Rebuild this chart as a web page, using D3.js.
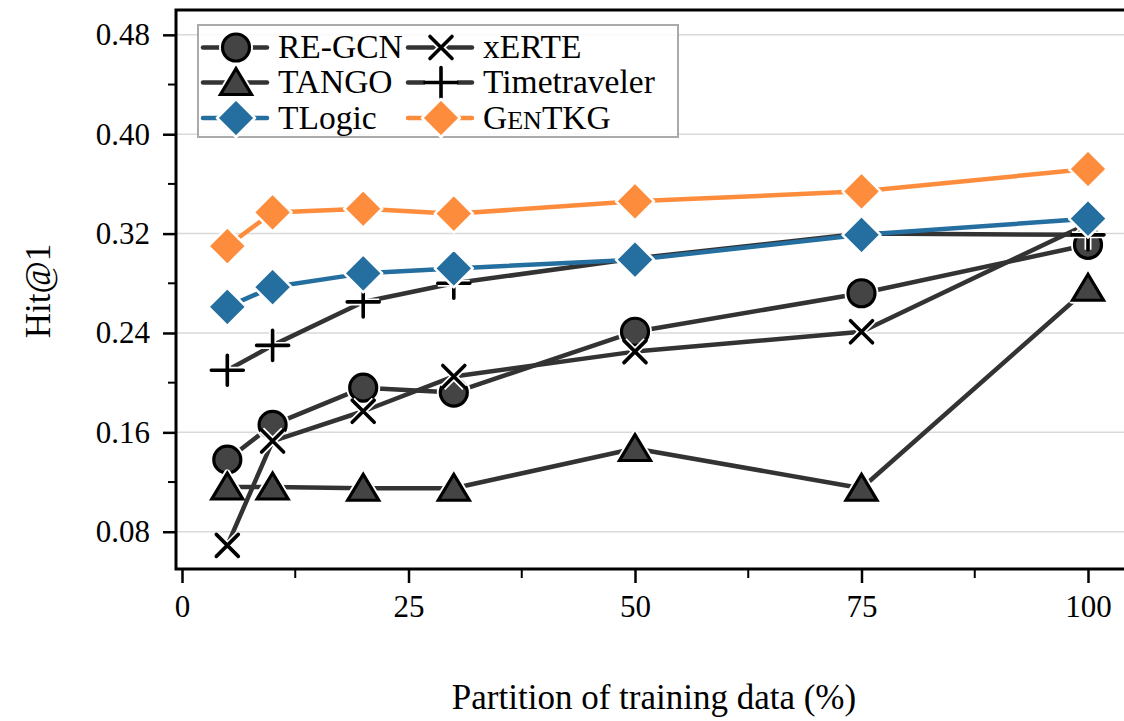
<!DOCTYPE html>
<html lang="en">
<head>
    <meta charset="UTF-8">
    <title>Hit@1 vs partition of training data</title>
    <script src="https://d3js.org/d3.v7.min.js"></script>
</head>
<style>
    html,body {
        margin: 0;
        padding: 0;
        background: #fff;
    }
    text {
        font-family: "Liberation Serif", "DejaVu Serif", serif;
        fill: #000;
    }
</style>
<body>
    <div id="svg"></div>
</body>
<script>
    // data
    const partitions = [5, 10, 20, 30, 50, 75, 100];
    const reGcn = [0.138, 0.166, 0.196, 0.192, 0.241, 0.272, 0.311];
    const tango = [0.116, 0.116, 0.115, 0.115, 0.147, 0.115, 0.276];
    const xerte = [0.069, 0.153, 0.177, 0.205, 0.225, 0.241, 0.328];
    const timetraveler = [0.210, 0.230, 0.265, 0.280, 0.300, 0.320, 0.319];
    const tlogic = [0.261, 0.277, 0.288, 0.292, 0.299, 0.319, 0.332];
    const genTkg = [0.310, 0.337, 0.340, 0.336, 0.346, 0.354, 0.372];

    const yTicks = [0.08, 0.16, 0.24, 0.32, 0.40, 0.48];
    const yMinor = [0.12, 0.20, 0.28, 0.36, 0.44];
    const xTicks = [0, 25, 50, 75, 100];
    const xMinor = [12.5, 37.5, 62.5, 87.5];

    const width = 1124;
    const height = 721;
    const dark = '#333';

    const series = [
        {name: 'RE-GCN', values: reGcn, color: dark, marker: 'circle'},
        {name: 'TANGO', values: tango, color: dark, marker: 'triangle'},
        {name: 'xERTE', values: xerte, color: dark, marker: 'x'},
        {name: 'Timetraveler', values: timetraveler, color: dark, marker: 'plus'},
        {name: 'TLogic', values: tlogic, color: '#246f9f', marker: 'diamond'},
        {name: 'GenTKG', values: genTkg, color: '#fd8d3c', marker: 'diamond'}
    ];

    const svg = d3.select('#svg').append('svg')
        .attr('width', width)
        .attr('height', height);

    // plot box
    const box = {left: 176, right: 1124, top: 10, bottom: 569};

    const x = d3.scaleLinear().domain([0, 100]).range([182, 1088]);
    const y = d3.scaleLinear().domain([0.05, 0.50]).range([box.bottom, box.top]);

    // grid
    svg.append('g').selectAll('line').data(yTicks).enter().append('line')
        .attr('x1', box.left).attr('x2', box.right)
        .attr('y1', d => y(d)).attr('y2', d => y(d))
        .attr('stroke', '#d9d9d9')
        .attr('stroke-width', 1.5);

    // axes
    const yAxis = svg.append('g')
        .attr('transform', `translate(${box.left},0)`)
        .call(d3.axisLeft(y).tickValues(yTicks).tickFormat(d3.format('.2f'))
            .tickSize(13).tickPadding(13).tickSizeOuter(0));
    yAxis.select('.domain').remove();
    yAxis.selectAll('.tick line').attr('stroke', '#000').attr('stroke-width', 2.5);
    yAxis.selectAll('.tick text').attr('font-size', 31);
    svg.append('g').selectAll('line').data(yMinor).enter().append('line')
        .attr('x1', box.left - 8).attr('x2', box.left)
        .attr('y1', d => y(d)).attr('y2', d => y(d))
        .attr('stroke', '#000').attr('stroke-width', 2);

    const xAxis = svg.append('g')
        .attr('transform', `translate(0,${box.bottom})`)
        .call(d3.axisBottom(x).tickValues(xTicks).tickSize(14).tickPadding(12).tickSizeOuter(0));
    xAxis.select('.domain').remove();
    xAxis.selectAll('.tick line').attr('stroke', '#000').attr('stroke-width', 2.5);
    xAxis.selectAll('.tick text').attr('font-size', 31);
    svg.append('g').selectAll('line').data(xMinor).enter().append('line')
        .attr('x1', d => x(d)).attr('x2', d => x(d))
        .attr('y1', box.bottom).attr('y2', box.bottom + 9)
        .attr('stroke', '#000').attr('stroke-width', 2);

    // spines
    svg.append('path')
        .attr('d', `M${box.right},${box.top}H${box.left}V${box.bottom}H${box.right}`)
        .attr('fill', 'none')
        .attr('stroke', '#000')
        .attr('stroke-width', 3);

    // axis labels
    svg.append('text')
        .attr('x', 654).attr('y', 709)
        .attr('text-anchor', 'middle')
        .attr('font-size', 35)
        .text('Partition of training data (%)');
    svg.append('text')
        .attr('transform', 'translate(50,291) rotate(-90)')
        .attr('text-anchor', 'middle')
        .attr('font-size', 35)
        .text('Hit@1');

    // marker drawing
    function drawMarker(g, type, color) {
        if (type === 'circle') {
            g.append('circle').attr('r', 13.5)
                .attr('fill', '#444').attr('stroke', '#fff').attr('stroke-width', 7);
            g.append('circle').attr('r', 13.5)
                .attr('fill', '#444').attr('stroke', '#000').attr('stroke-width', 3.2);
        } else if (type === 'triangle') {
            const p = 'M0,-14L15.5,12L-15.5,12Z';
            g.append('path').attr('d', p)
                .attr('fill', '#444').attr('stroke', '#fff').attr('stroke-width', 7)
                .attr('stroke-linejoin', 'round');
            g.append('path').attr('d', p)
                .attr('fill', '#444').attr('stroke', '#000').attr('stroke-width', 3.2)
                .attr('stroke-linejoin', 'miter');
        } else if (type === 'x') {
            const p = 'M-11,-11L11,11M-11,11L11,-11';
            g.append('path').attr('d', p)
                .attr('stroke', '#fff').attr('stroke-width', 7);
            g.append('path').attr('d', p)
                .attr('stroke', '#000').attr('stroke-width', 3.6).attr('stroke-linecap', 'round');
        } else if (type === 'plus') {
            const p = 'M-16,0H16M0,-15V15';
            g.append('path').attr('d', p)
                .attr('stroke', '#fff').attr('stroke-width', 7);
            g.append('path').attr('d', p)
                .attr('stroke', '#000').attr('stroke-width', 3.6).attr('stroke-linecap', 'round');
        } else if (type === 'diamond') {
            g.append('path').attr('d', 'M0,-19L19,0L0,19L-19,0Z')
                .attr('fill', color).attr('stroke', '#fff').attr('stroke-width', 2.5)
                .attr('stroke-linejoin', 'round');
        }
    }

    const line = d3.line()
        .x((d, i) => x(partitions[i]))
        .y(d => y(d));

    series.forEach(s => {
        const g = svg.append('g');
        g.append('path')
            .attr('d', line(s.values))
            .attr('fill', 'none')
            .attr('stroke', s.color)
            .attr('stroke-width', 4.5)
            .attr('stroke-linejoin', 'round');
        g.selectAll('g.m').data(s.values).enter().append('g')
            .attr('class', 'm')
            .attr('transform', (d, i) => `translate(${x(partitions[i])},${y(d)})`)
            .each(function () { drawMarker(d3.select(this), s.marker, s.color); });
    });

    // legend
    const legend = svg.append('g');
    legend.append('rect')
        .attr('x', 198).attr('y', 25).attr('width', 480).attr('height', 112)
        .attr('fill', '#fff').attr('fill-opacity', 0.85)
        .attr('stroke', '#aaa').attr('stroke-width', 2);
    const legendCols = [203, 408];
    const legendRows = [47.5, 82.5, 118];
    const legendOrder = [0, 2, 1, 3, 4, 5]; // filled column by column
    legendOrder.forEach((si, k) => {
        const s = series[si];
        const col = k % 2;
        const row = Math.floor(k / 2);
        const lx = legendCols[col];
        const ly = legendRows[row];
        const item = legend.append('g').attr('transform', `translate(${lx},${ly})`);
        item.append('line')
            .attr('x1', 0).attr('x2', 64)
            .attr('stroke', s.color).attr('stroke-width', 4.5)
            .attr('stroke-linecap', 'round');
        const m = item.append('g').attr('transform', 'translate(33,0)');
        drawMarker(m, s.marker, s.color);
        const t = item.append('text')
            .attr('x', 75).attr('y', 10.5)
            .attr('font-size', 33.5);
        if (s.name === 'GenTKG') {
            t.append('tspan').text('G');
            t.append('tspan').attr('font-size', 26).text('EN');
            t.append('tspan').text('TKG');
        } else {
            t.text(s.name);
        }
    });
</script>
</html>
